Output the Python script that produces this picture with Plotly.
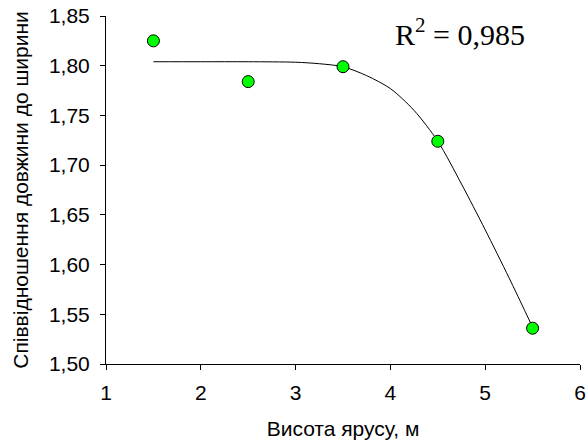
import plotly.graph_objects as go

# measured data (height of tier, m -> length/width ratio)
heights = [1.5, 2.5, 3.5, 4.5, 5.5]
ratio = [1.825, 1.784, 1.799, 1.724, 1.536]

# trend curve
fit_x = [1.5, 2.0, 2.5, 3.0, 3.25, 3.5, 3.75, 4.0, 4.25, 4.5, 4.75, 5.0, 5.25, 5.5]
fit_y = [1.804, 1.804, 1.804, 1.8035, 1.802, 1.799, 1.790, 1.777, 1.755, 1.724,
         1.681, 1.635, 1.587, 1.537]

r2_text = "R<sup>2</sup> = 0,985"

fig = go.Figure()

# Draw trend line
fig.add_trace(go.Scatter(
    x=fit_x,
    y=fit_y,
    mode='lines',
    line=dict(color='#000000', width=1, shape='spline', smoothing=0.8),
    hoverinfo='skip',
))

# Draw points
fig.add_trace(go.Scatter(
    x=heights,
    y=ratio,
    mode='markers',
    marker=dict(size=12, color='#00FF00', line=dict(color='#000000', width=1)),
))

fig.add_annotation(
    text=r2_text,
    xref='paper', yref='paper',
    x=0.747, y=0.955,
    xanchor='center', yanchor='middle',
    showarrow=False,
    font=dict(family="Liberation Serif", size=30, color="#000000"),
)

axis_font = dict(family="Liberation Sans", size=21, color="#000000")
title_font = dict(family="Liberation Sans", size=21, color="#000000")

fig.update_xaxes(
    range=[1, 6],
    tick0=1, dtick=1,
    showline=True, linecolor='#000000', linewidth=1,
    ticks='outside', ticklen=5, tickcolor='#000000',
    showgrid=False, zeroline=False,
    tickfont=axis_font,
    ticklabelstandoff=5,
    ticklabeloverflow='allow',
    title=dict(text="Висота ярусу, м", font=title_font, standoff=18),
)

fig.update_yaxes(
    range=[1.5, 1.85],
    tick0=1.5, dtick=0.05, tickformat='.2f',
    showline=True, linecolor='#000000', linewidth=1,
    ticks='outside', ticklen=5, tickcolor='#000000',
    showgrid=False, zeroline=False,
    tickfont=axis_font,
    ticklabelstandoff=6,
    ticklabeloverflow='allow',
    title=dict(text="Співвідношення довжини до ширини", font=title_font, standoff=14),
)

fig.update_layout(
    width=588, height=442,
    template="simple_white",
    separators=", ",
    showlegend=False,
    plot_bgcolor='#ffffff',
    paper_bgcolor='#ffffff',
    margin=dict(l=106, r=8, t=16, b=78, autoexpand=False),
)

# drop the default 8px page margin so the figure fills the window
fig.write_html("out.html", config={'displayModeBar': False},
               post_script="document.body.style.margin='0px';")
